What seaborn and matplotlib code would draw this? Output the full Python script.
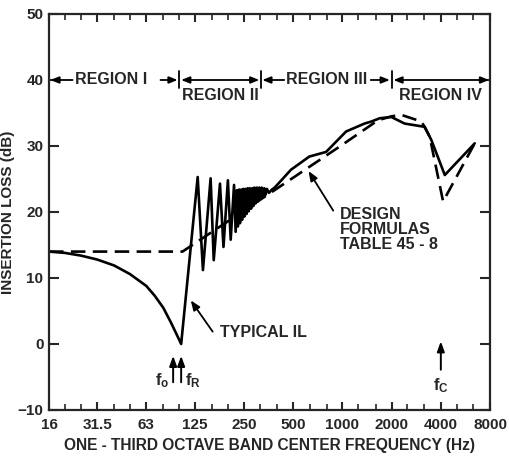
import numpy as np
import pandas as pd
import seaborn as sns
from matplotlib import pyplot as plt
from matplotlib.ticker import FixedLocator, NullFormatter

# one-third octave band axis
band_ticks = [16, 31.5, 63, 125, 250, 500, 1000, 2000, 4000, 8000]
band_labels = ['16', '31.5', '63', '125', '250', '500', '1000', '2000', '4000', '8000']
third_octaves = [20, 25, 40, 50, 80, 100, 160, 200, 315, 400, 630, 800,
                 1250, 1600, 2500, 3150, 5000, 6300]

# design formulas (dashed)
design_freq = [16, 105, 400, 1000, 1650, 2000, 2300, 3050, 3420, 4130, 6450]
design_il = [14, 14, 23.6, 30.2, 33.9, 34.5, 34.7, 33.7, 31.4, 21.6, 30.4]

# typical insertion loss (solid)
typ_freq = [16, 20, 25, 31.5, 40, 50, 63, 71, 80, 89, 96, 103,
            130, 140, 156, 163, 178, 187, 199, 207, 217, 222,
            226, 229, 233, 236, 240, 243, 247, 251, 255, 259, 263, 267, 271,
            276, 280, 285, 289, 294, 299, 304, 309, 314, 320, 326, 332, 338,
            345, 355, 370, 385, 484, 627, 794, 1053, 1365, 1500, 1690, 1990,
            2400, 3190, 3500, 4230, 6450]
typ_il = [14, 13.8, 13.4, 12.8, 11.9, 10.6, 8.8, 7.3, 5.5, 3.3, 1.6, 0,
          25.3, 11.2, 25.1, 12.7, 24.3, 14.7, 24.8, 15.8, 24.1, 17.0,
          23.3, 17.8, 23.4, 18.3, 23.4, 18.8, 23.5, 19.3, 23.5, 19.7, 23.6, 20.1, 23.6,
          20.5, 23.6, 20.9, 23.7, 21.3, 23.7, 21.6, 23.7, 22.0, 23.7, 22.3, 23.6, 22.6,
          23.5, 22.9, 23.4, 23.7, 26.4, 28.4, 29.1, 32.2, 33.4, 33.7, 34.2, 34.4,
          33.4, 32.9, 30.9, 25.6, 30.4]

region_edges = [16, 100, 316, 2000, 8000]

sns.set_style('ticks')
plt.rcParams['font.family'] = ['Liberation Sans', 'DejaVu Sans']
plt.rcParams['font.weight'] = 'bold'
plt.rcParams['mathtext.fontset'] = 'custom'
plt.rcParams['mathtext.rm'] = 'Liberation Sans:bold'
plt.rcParams['mathtext.it'] = 'Liberation Sans:bold'

fig = plt.figure(figsize=(5.09, 4.59), dpi=100)
ax = fig.add_axes([0.0963, 0.1068, 0.8664, 0.8627])

typ = pd.DataFrame({'freq': typ_freq, 'il': typ_il})
des = pd.DataFrame({'freq': design_freq, 'il': design_il})
sns.lineplot(data=typ, x='freq', y='il', ax=ax, color='black', lw=1.9,
             estimator=None, sort=False)
sns.lineplot(data=des, x='freq', y='il', ax=ax, color='black', lw=1.9,
             estimator=None, sort=False, linestyle=(0, (5.5, 2.8)))

ax.set_xscale('log')
ax.set_xlim(16, 8000)
ax.set_ylim(-10, 50)
ax.xaxis.set_major_locator(FixedLocator(band_ticks))
ax.xaxis.set_minor_locator(FixedLocator(third_octaves))
ax.xaxis.set_minor_formatter(NullFormatter())
ax.set_xticklabels(band_labels)
ax.set_yticks(range(-10, 51, 10))
ax.tick_params(axis='x', which='major', direction='in', top=True, length=6,
               width=1.5, labelsize=11, pad=6)
ax.tick_params(axis='x', which='minor', direction='in', top=True, length=4,
               width=1.2)
ax.tick_params(axis='y', direction='in', right=True, length=7, width=1.5,
               labelsize=11, pad=4)
for s in ax.spines.values():
    s.set_linewidth(1.6)

ax.set_xlabel('ONE - THIRD OCTAVE BAND CENTER FREQUENCY (Hz)', fontsize=11.2,
              fontweight='bold', labelpad=4)
ax.set_ylabel('INSERTION LOSS (dB)', fontsize=11, fontweight='bold', labelpad=2)

# region markers
arr = dict(arrowstyle='-|>,head_length=0.5,head_width=0.2', color='black',
           lw=1.3, shrinkA=0, shrinkB=0)
for e in region_edges[1:4]:
    ax.plot([e, e], [38.8, 41.3], color='black', lw=1.3)
tk = dict(fontsize=11.5, fontweight='bold', ha='center', va='center')
ax.text(38.5, 40, 'REGION I', **tk)
ax.annotate('', xy=(16.3, 40), xytext=(22.3, 40), arrowprops=arr)
ax.annotate('', xy=(98, 40), xytext=(77, 40), arrowprops=arr)
ax.annotate('', xy=(103, 40), xytext=(310, 40),
            arrowprops=dict(arr, arrowstyle='<|-|>,head_length=0.5,head_width=0.2'))
ax.text(180, 37.7, 'REGION II', **tk)
ax.text(800, 40, 'REGION III', **tk)
ax.annotate('', xy=(323, 40), xytext=(440, 40), arrowprops=arr)
ax.annotate('', xy=(1950, 40), xytext=(1490, 40), arrowprops=arr)
ax.annotate('', xy=(2050, 40), xytext=(7900, 40),
            arrowprops=dict(arr, arrowstyle='<|-|>,head_length=0.5,head_width=0.2'))
ax.text(4000, 37.7, 'REGION IV', **tk)

# callouts
ax.annotate('TYPICAL IL', xy=(118, 6.6), xytext=(178, 1.7), fontsize=11.5,
            fontweight='bold', ha='left', va='center',
            arrowprops=dict(arrowstyle='-|>,head_length=0.5,head_width=0.2',
                            color='black', lw=1.3, shrinkA=3, shrinkB=0,
                            relpos=(0, 0.5),
                            connectionstyle='angle,angleA=0,angleB=-55,rad=0'))
ax.annotate('DESIGN\nFORMULAS\nTABLE 45 - 8', xy=(620, 26.2), xytext=(960, 20.8),
            fontsize=11.5, fontweight='bold', ha='left', va='top', linespacing=1.0,
            arrowprops=dict(arrowstyle='-|>,head_length=0.5,head_width=0.2',
                            color='black', lw=1.3, shrinkA=3, shrinkB=0,
                            relpos=(0, 0.85),
                            connectionstyle='angle,angleA=0,angleB=-58,rad=0'))

# frequency markers
for f in [92, 103, 4000]:
    ax.annotate('', xy=(f, -1.8 if f < 4000 else 0.4),
                xytext=(f, -5.8 if f < 4000 else -3.9),
                arrowprops=dict(arrowstyle='-|>,head_length=0.6,head_width=0.22',
                                color='black', lw=1.4, shrinkA=0, shrinkB=0))
ax.text(87, -5.6, r'$\mathrm{f}_{\mathrm{o}}$', fontsize=12, ha='right', va='center')
ax.text(108, -5.6, r'$\mathrm{f}_{\mathrm{R}}$', fontsize=12, ha='left', va='center')
ax.text(4000, -6.3, r'$\mathrm{f}_{\mathrm{C}}$', fontsize=12, ha='center', va='center')

fig.savefig('out.png', dpi=100)
